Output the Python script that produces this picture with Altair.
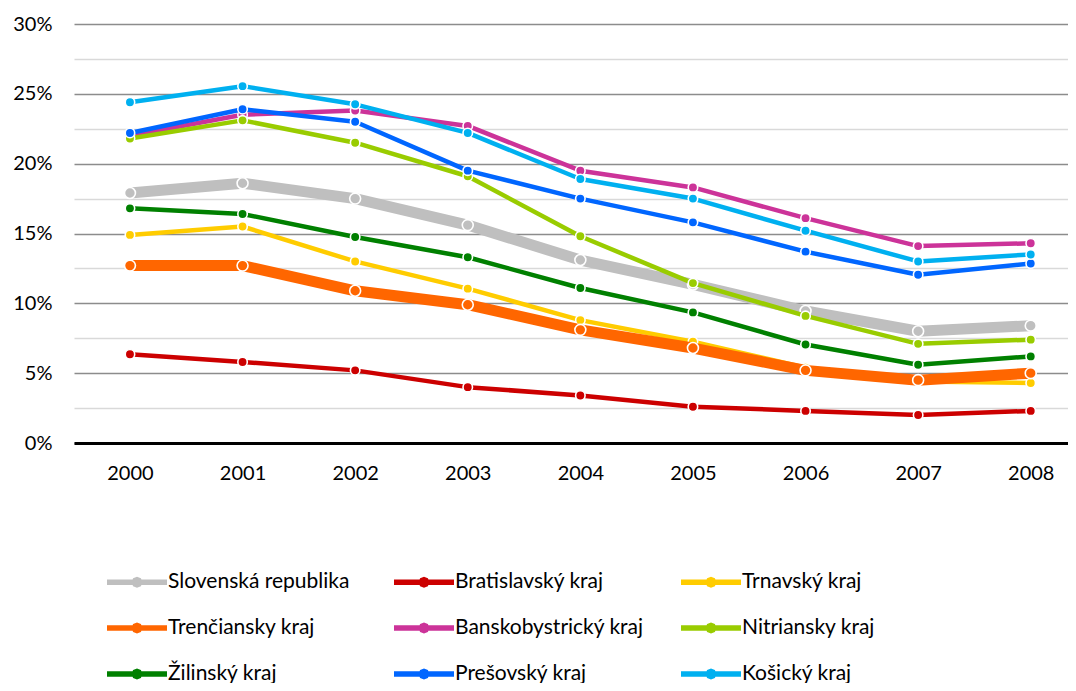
import altair as alt
import pandas as pd

years = [2000, 2001, 2002, 2003, 2004, 2005, 2006, 2007, 2008]
series = ["Slovenská republika", "Bratislavský kraj", "Trnavský kraj",
          "Trenčiansky kraj", "Banskobystrický kraj", "Nitriansky kraj",
          "Žilinský kraj", "Prešovský kraj", "Košický kraj"]
colors = ["#bfbfbf", "#cc0000", "#ffcc00", "#ff6600", "#cc3399",
          "#99cc00", "#008000", "#0066ff", "#00b0f0"]
line_widths = [11, 4.5, 4.5, 11, 4.5, 4.5, 4.5, 4.5, 4.5]

slovensko = [17.9, 18.6, 17.5, 15.6, 13.1, 11.35, 9.45, 8.0, 8.4]
bratislava = [6.35, 5.8, 5.2, 4.0, 3.4, 2.6, 2.3, 2.0, 2.3]
trnava = [14.9, 15.5, 13.0, 11.05, 8.8, 7.25, 5.4, 4.4, 4.3]
trencin = [12.7, 12.7, 10.9, 9.9, 8.1, 6.8, 5.2, 4.5, 5.0]
banska_bystrica = [22.0, 23.5, 23.8, 22.7, 19.5, 18.3, 16.1, 14.1, 14.3]
nitra = [21.8, 23.1, 21.5, 19.1, 14.8, 11.45, 9.1, 7.1, 7.4]
zilina = [16.8, 16.4, 14.75, 13.3, 11.1, 9.35, 7.05, 5.6, 6.2]
presov = [22.2, 23.9, 23.0, 19.5, 17.5, 15.8, 13.7, 12.05, 12.85]
kosice = [24.4, 25.55, 24.25, 22.2, 18.9, 17.5, 15.2, 13.0, 13.5]

values = [slovensko, bratislava, trnava, trencin, banska_bystrica,
          nitra, zilina, presov, kosice]

rows = []
for s, vals, lw in zip(series, values, line_widths):
    for y, v in zip(years, vals):
        rows.append({"rok": y, "seria": s, "hodnota": v, "sirka": lw})
df = pd.DataFrame(rows)

FONT = "Lato"
y_ticks = [0, 2.5, 5, 7.5, 10, 12.5, 15, 17.5, 20, 22.5, 25, 27.5, 30]

x_enc = alt.X("rok:Q",
              scale=alt.Scale(domain=[1999.503, 2008.331], nice=False, zero=False),
              axis=alt.Axis(values=years, format="d", title=None, grid=False,
                            ticks=False, domain=True, domainColor="#000000",
                            domainWidth=3, labelFont=FONT, labelFontSize=20,
                            labelColor="#000000", labelPadding=20))
y_enc = alt.Y("hodnota:Q",
              scale=alt.Scale(domain=[0, 30], nice=False),
              axis=alt.Axis(values=y_ticks, title=None, domain=False, ticks=False,
                            labelFont=FONT, labelFontSize=20, labelColor="#000000",
                            labelPadding=22,
                            labelExpr="datum.value % 5 === 0 ? datum.value + '%' : ''",
                            gridColor={"condition": {"test": "datum.value % 5 === 0",
                                                     "value": "#8c8c8c"},
                                       "value": "#d9d9d9"},
                            gridWidth=1.5))

sym = ("M-2,0H2M0.17,0L0.12,0.12L0,0.17L-0.12,0.12L-0.17,0"
       "L-0.12,-0.12L0,-0.17L0.12,-0.12Z")

legend = alt.Legend(title=None, orient="none", legendX=45, legendY=540,
                    direction="horizontal", columns=3, gridAlign="all",
                    columnPadding=26, rowPadding=14,
                    symbolType=sym, symbolSize=900, symbolStrokeWidth=5.5,
                    labelFont=FONT, labelFontSize=21, labelColor="#000000",
                    labelOffset=13, labelLimit=400, padding=0)

color_enc = alt.Color("seria:N", scale=alt.Scale(domain=series, range=colors),
                      legend=legend)
width_enc = alt.StrokeWidth("sirka:Q", scale=None, legend=None)

layers = []
base = alt.Chart(df)
for i, s in enumerate(series):
    thick = line_widths[i] > 8
    sub = base.transform_filter(alt.datum.seria == s)
    line = sub.mark_line(strokeJoin="round", strokeCap="butt").encode(
        x=x_enc, y=y_enc, color=color_enc, strokeWidth=width_enc)
    pts = sub.mark_point(filled=True, shape="circle", size=120 if thick else 90,
                         stroke="white", strokeWidth=1.6, opacity=1).encode(
        x=x_enc, y=y_enc,
        fill=alt.Fill("seria:N", scale=alt.Scale(domain=series, range=colors),
                      legend=None))
    layers += [line, pts]

chart = alt.layer(*layers).properties(
    width=994, height=419,
    padding={"left": 66, "top": 16, "right": 0, "bottom": 240},
    autosize=alt.AutoSizeParams(type="none"),
    background="white",
).configure_view(stroke=None)

chart.save("out.html", embed_options={"renderer": "svg", "actions": False})
